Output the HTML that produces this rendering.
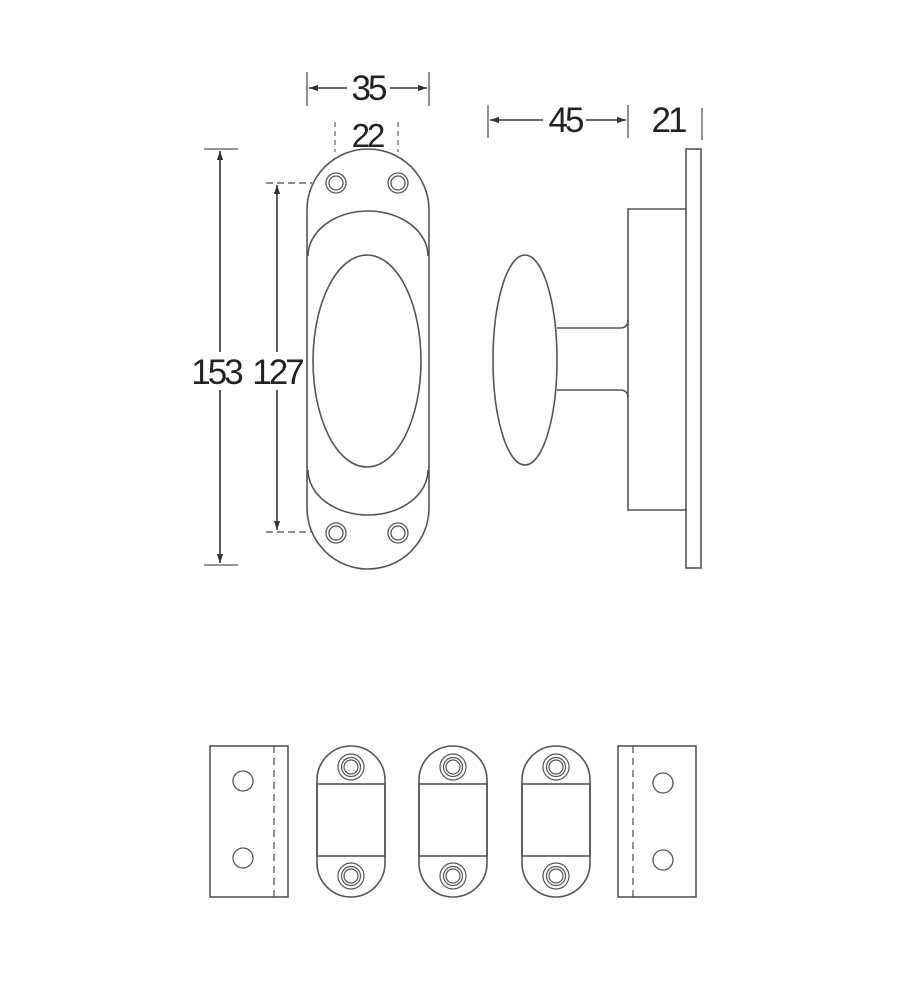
<!DOCTYPE html>
<html><head><meta charset="utf-8"><style>
html,body{margin:0;padding:0;background:#fff;}
svg{display:block;}
text{font-family:"Liberation Sans",sans-serif;fill:#222;}
</style></head><body>
<svg width="903" height="1000" viewBox="0 0 903 1000" xmlns="http://www.w3.org/2000/svg">
<defs>
<marker id="a" viewBox="0 0 10 10" refX="10" refY="5" markerWidth="9" markerHeight="9" orient="auto-start-reverse" markerUnits="userSpaceOnUse"><path d="M0,1.5L10,5L0,8.5z" fill="#333"/></marker>
</defs>
<g fill="none" stroke="#555" stroke-width="1.6">
<!-- front view -->
<rect x="307" y="149" width="122" height="420" rx="61" ry="61"/>
<path d="M308,256 A60,45 0 0 1 428,256"/>
<path d="M308,470 A60,45 0 0 0 428,470"/>
<ellipse cx="367" cy="361" rx="54" ry="106"/>
<g stroke-width="1.3">
<circle cx="336" cy="183" r="10"/><circle cx="336" cy="183" r="7"/>
<circle cx="398" cy="183" r="10"/><circle cx="398" cy="183" r="7"/>
<circle cx="336" cy="533" r="10"/><circle cx="336" cy="533" r="7"/>
<circle cx="398" cy="533" r="10"/><circle cx="398" cy="533" r="7"/>
</g>
<!-- dims front -->
<line x1="307" y1="72" x2="307" y2="106" stroke="#777"/>
<line x1="429" y1="72" x2="429" y2="106" stroke="#777"/>
<line x1="309" y1="88" x2="347" y2="88" stroke="#333" marker-start="url(#a)"/>
<line x1="390" y1="88" x2="427" y2="88" stroke="#333" marker-end="url(#a)"/>
<line x1="335" y1="122" x2="335" y2="152" stroke="#888" stroke-dasharray="5,4"/>
<line x1="398" y1="122" x2="398" y2="152" stroke="#888" stroke-dasharray="5,4"/>
<line x1="204" y1="149" x2="238" y2="149" stroke="#777"/>
<line x1="204" y1="565" x2="238" y2="565" stroke="#777"/>
<line x1="220" y1="151" x2="220" y2="352" stroke="#333" marker-start="url(#a)"/>
<line x1="220" y1="390" x2="220" y2="563" stroke="#333" marker-end="url(#a)"/>
<line x1="266" y1="183" x2="312" y2="183" stroke="#666" stroke-dasharray="7,4"/>
<line x1="266" y1="532" x2="312" y2="532" stroke="#666" stroke-dasharray="7,4"/>
<line x1="277" y1="185" x2="277" y2="352" stroke="#333" marker-start="url(#a)"/>
<line x1="277" y1="390" x2="277" y2="530" stroke="#333" marker-end="url(#a)"/>
<!-- side view -->
<rect x="686" y="149" width="15" height="419"/>
<polyline points="686,209 628,209 628,510 686,510"/>
<ellipse cx="525" cy="360" rx="32" ry="105"/>
<path d="M557,328 L620,328 Q628,328 628,320"/>
<path d="M557,390 L620,390 Q628,390 628,398"/>
<line x1="488" y1="105" x2="488" y2="138" stroke="#777"/>
<line x1="628" y1="105" x2="628" y2="138" stroke="#777"/>
<line x1="702" y1="108" x2="702" y2="140" stroke="#777"/>
<line x1="490" y1="120" x2="543" y2="120" stroke="#333" marker-start="url(#a)"/>
<line x1="586" y1="120" x2="626" y2="120" stroke="#333" marker-end="url(#a)"/>
<!-- bottom row -->
<rect x="210" y="746" width="78" height="151"/>
<line x1="274" y1="746" x2="274" y2="897" stroke-dasharray="7,5" stroke-width="1.3"/>
<circle cx="243" cy="781" r="10" stroke-width="1.3"/><circle cx="243" cy="858" r="10" stroke-width="1.3"/>
<rect x="618" y="746" width="78" height="151"/>
<line x1="633" y1="746" x2="633" y2="897" stroke-dasharray="7,5" stroke-width="1.3"/>
<circle cx="663" cy="783" r="10" stroke-width="1.3"/><circle cx="663" cy="860" r="10" stroke-width="1.3"/>
<g id="p">
<rect x="317" y="746" width="68" height="151" rx="34" ry="34"/>
<rect x="317" y="784" width="68" height="72"/>
<circle cx="351" cy="767" r="13" stroke-width="1.2"/><circle cx="351" cy="767" r="9.5" stroke-width="1.2"/><circle cx="351" cy="767" r="7" stroke-width="1.2"/>
<circle cx="351" cy="876" r="13" stroke-width="1.2"/><circle cx="351" cy="876" r="9.5" stroke-width="1.2"/><circle cx="351" cy="876" r="7" stroke-width="1.2"/>
</g>
<use href="#p" x="102"/>
<use href="#p" x="205"/>
</g>
<g font-size="35" text-anchor="middle" letter-spacing="-3">
<text x="368" y="100">35</text>
<text x="367" y="147" font-size="33">22</text>
<text x="216" y="384">153</text>
<text x="277" y="384">127</text>
<text x="565" y="132">45</text>
<text x="668" y="132">21</text>
</g>
</svg>
</body></html>
